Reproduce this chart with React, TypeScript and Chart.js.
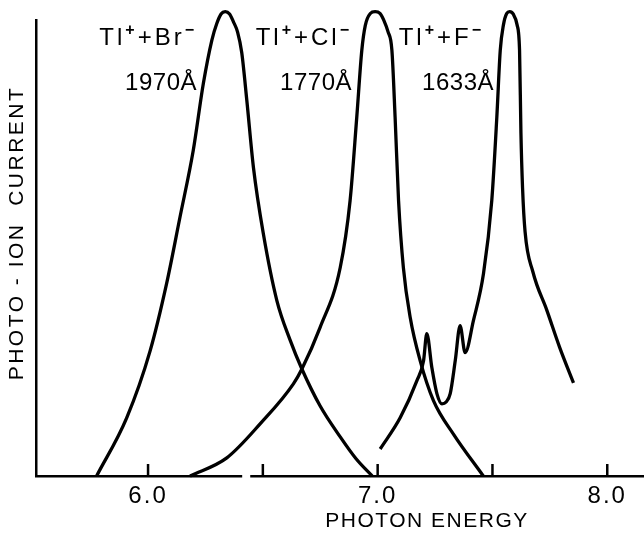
import { useEffect, useRef } from "react";
import { Chart, registerables } from "chart.js";

Chart.register(...registerables);

// Photon energy (eV) and relative photo-ion current
const brEnergy = [5.776, 5.907, 6.009, 6.081, 6.139, 6.197, 6.241, 6.278, 6.299, 6.318, 6.336, 6.355, 6.372, 6.390, 6.408, 6.430, 6.459, 6.502, 6.561, 6.618, 6.670, 6.749, 6.837, 6.906, 6.976];
const brCurrent = [0, 12.5, 26.9, 41.4, 55.6, 70.0, 84.4, 93.7, 97.2, 99.3, 99.8, 99.3, 97.6, 95.4, 91.0, 80.8, 66.3, 52.1, 37.7, 29.3, 23.0, 15.1, 8.4, 3.7, 0];

const clEnergy = [6.183, 6.343, 6.488, 6.633, 6.670, 6.749, 6.837, 6.880, 6.909, 6.931, 6.946, 6.968, 6.989, 7.010, 7.028, 7.045, 7.062, 7.076, 7.091, 7.112, 7.142, 7.185, 7.243, 7.330, 7.460];
const clCurrent = [0, 3.9, 11.2, 19.8, 23.0, 31.9, 44.8, 59.2, 77.1, 91.5, 96.8, 99.4, 99.8, 99.4, 97.8, 95.5, 91.5, 77.1, 59.2, 44.8, 34.0, 24.8, 16.2, 9.0, 0];

const fEnergy = [7.011, 7.098, 7.171, 7.200, 7.214, 7.236, 7.258, 7.280, 7.298, 7.316, 7.338, 7.359, 7.381, 7.417, 7.461, 7.497, 7.519, 7.534, 7.548, 7.562, 7.575, 7.590, 7.607, 7.618, 7.624, 7.631, 7.642, 7.676, 7.737, 7.793, 7.853];
const fCurrent = [5.8, 12.5, 20.5, 24.8, 30.6, 23.3, 17.7, 15.5, 15.9, 17.7, 24.8, 32.3, 26.5, 33.4, 43.5, 59.2, 77.1, 91.5, 97.0, 99.4, 99.8, 99.3, 97.0, 91.5, 73.7, 62.0, 52.5, 43.9, 35.6, 27.6, 20.0];

const xTickValues = [6.0, 6.5, 7.0, 7.5, 8.0];
const xTickLabels = ["6.0", "", "7.0", "", "8.0"];

const anionLabels = ["Br", "Cl", "F"];
const wavelengthLabels = ["1970Å", "1770Å", "1633Å"];
const xTitle = "PHOTON ENERGY";
const yTitle = "PHOTO - ION  CURRENT";

const FONT = '"Liberation Sans", Arial, sans-serif';

function drawRich(ctx: CanvasRenderingContext2D, parts: { t: string; sup?: boolean }[], xRight: number, yBase: number, size: number) {
  const supSize = Math.round(size * 0.68);
  const widths = parts.map((p) => {
    ctx.font = `${p.sup ? "bold " + supSize : size}px ${FONT}`;
    return ctx.measureText(p.t).width;
  });
  let x = xRight - widths.reduce((a, b) => a + b, 0);
  parts.forEach((p, i) => {
    ctx.font = `${p.sup ? "bold " + supSize : size}px ${FONT}`;
    ctx.fillText(p.t, x, p.sup ? yBase - size * 0.42 : yBase);
    x += widths[i];
  });
}

const annotate = {
  id: "annotate",
  beforeDraw(chart: any) {
    chart.ctx.letterSpacing = "2px";
  },
  afterDraw(chart: any) {
    const ctx: CanvasRenderingContext2D = chart.ctx;
    const xs = chart.scales.x;
    const ys = chart.scales.y;
    const yb = ys.getPixelForValue(0);
    ctx.save();
    // small gap in the baseline
    ctx.fillStyle = "#fff";
    const g0 = xs.getPixelForValue(6.41);
    const g1 = xs.getPixelForValue(6.445);
    ctx.fillRect(g0, yb - 3, g1 - g0, 6);
    // inward tick marks
    ctx.strokeStyle = "#000";
    ctx.lineWidth = 2.5;
    xTickValues.forEach((v) => {
      const px = xs.getPixelForValue(v);
      ctx.beginPath();
      ctx.moveTo(px, yb);
      ctx.lineTo(px, yb - 12);
      ctx.stroke();
    });
    ctx.fillStyle = "#000";
    ctx.textBaseline = "alphabetic";
    ctx.textAlign = "left";
    // species and wavelength labels
    const rights = [197, 352, 484];
    const wlRights = [197, 352, 494];
    anionLabels.forEach((a, i) => {
      ctx.letterSpacing = "3px";
      drawRich(ctx, [{ t: "Tl" }, { t: "+", sup: true }, { t: "+" }, { t: a }, { t: "−", sup: true }], rights[i], 45, 24);
      ctx.letterSpacing = "0.5px";
      ctx.font = `24px ${FONT}`;
      ctx.textAlign = "right";
      ctx.fillText(wavelengthLabels[i], wlRights[i], 90);
      ctx.textAlign = "left";
    });
    // axis titles
    ctx.letterSpacing = "1.5px";
    ctx.font = `21px ${FONT}`;
    ctx.textAlign = "center";
    ctx.fillText(xTitle, 427, 527);
    ctx.translate(23, 233);
    ctx.rotate(-Math.PI / 2);
    ctx.letterSpacing = "2.5px";
    ctx.font = `21px ${FONT}`;
    ctx.fillText(yTitle, 0, 0);
    ctx.restore();
  },
};

export default function App() {
  const ref = useRef<HTMLCanvasElement | null>(null);
  useEffect(() => {
    if (!ref.current) return;
    const mk = (xs: number[], ys: number[]) => xs.map((x, i) => ({ x, y: ys[i] }));
    const ds = (data: any[]) => ({
      data,
      borderColor: "#000",
      borderWidth: 3.3,
      pointRadius: 0,
      fill: false,
      cubicInterpolationMode: "monotone" as const,
      clip: false as const,
    });
    const chart = new Chart(ref.current, {
      type: "line",
      data: {
        datasets: [ds(mk(brEnergy, brCurrent)), ds(mk(clEnergy, clCurrent)), ds(mk(fEnergy, fCurrent))],
      },
      options: {
        responsive: false,
        animation: false,
        devicePixelRatio: 1,
        layout: { padding: { top: 20, left: 0, right: 0, bottom: 0 } },
        plugins: { legend: { display: false }, tooltip: { enabled: false } },
        scales: {
          x: {
            type: "linear",
            min: 5.512,
            max: 8.16,
            afterFit: (s: any) => {
              s.height = 57;
            },
            afterBuildTicks: (s: any) => {
              s.ticks = xTickValues.map((v) => ({ value: v }));
            },
            grid: { display: false, drawTicks: false },
            border: { display: true, color: "#000", width: 2.5 },
            ticks: {
              autoSkip: false,
              maxRotation: 0,
              padding: 6,
              color: "#000",
              font: { family: FONT, size: 24 },
              callback: (v: any) => {
                const i = xTickValues.indexOf(Number(v));
                return i >= 0 ? xTickLabels[i] : "";
              },
            },
          },
          y: {
            min: 0,
            max: 98,
            afterFit: (s: any) => {
              s.width = 36;
            },
            grid: { display: false },
            border: { display: true, color: "#000", width: 2.5 },
            ticks: { display: false },
          },
        },
      },
      plugins: [annotate],
    });
    return () => chart.destroy();
  }, []);
  return (
    <div style={{ position: "absolute", left: 0, top: 0, width: 644, height: 533, background: "#fff" }}>
      <canvas ref={ref} width={644} height={533} />
    </div>
  );
}
